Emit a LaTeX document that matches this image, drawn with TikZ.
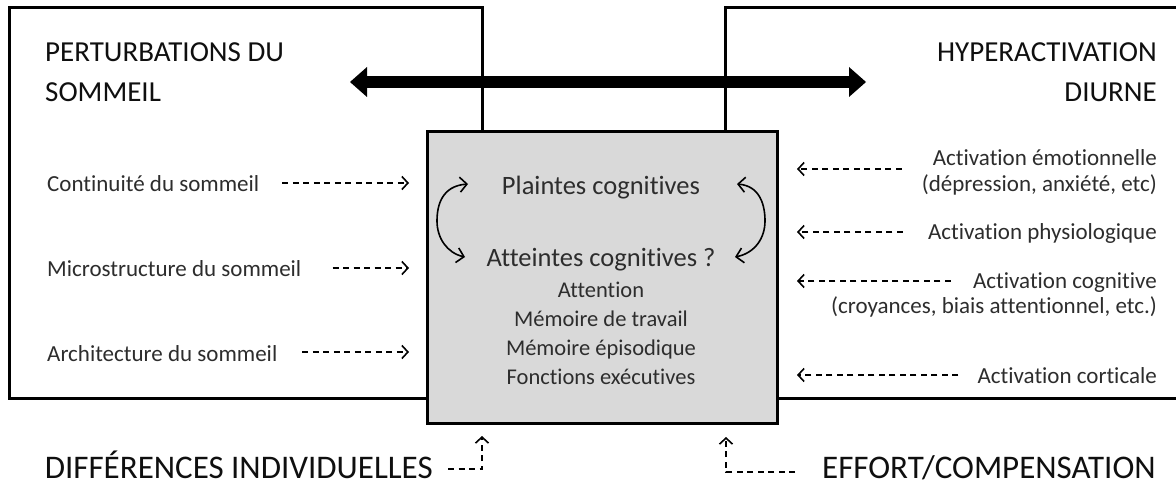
\documentclass[tikz,border=0pt]{standalone}
\usepackage{fontspec}
\setmainfont{Carlito}[Ligatures=NoCommon]
\usetikzlibrary{arrows.meta}
\definecolor{grayfill}{RGB}{217,217,217}
\definecolor{txtgray}{RGB}{45,45,45}
\definecolor{ttlblack}{RGB}{15,15,15}
\begin{document}
\begin{tikzpicture}[x=1pt,y=-1pt,
  boxline/.style={line width=3pt, line join=miter},
  lbl/.style={inner sep=0pt, text=txtgray, font=\fontsize{23}{28}\selectfont},
  ttl/.style={inner sep=0pt, text=ttlblack, font=\fontsize{29}{35}\selectfont},
  inbox/.style={inner sep=0pt, text=txtgray, font=\fontsize{26.5}{32}\selectfont},
  sub/.style={inner sep=0pt, text=txtgray, font=\fontsize{22.5}{27}\selectfont},
  bot/.style={inner sep=0pt, text=ttlblack, font=\fontsize{33}{40}\selectfont},
  darr/.style={line width=1.6pt, dash pattern=on 6pt off 4.5pt, -{Straight Barb[length=6pt,width=13pt]}},
  carr/.style={line width=1.6pt, {Straight Barb[length=7pt,width=15pt]}-{Straight Barb[length=7pt,width=15pt]}},
  bigarr/.style={line width=12pt, {Triangle[length=17pt,width=30pt,line width=0pt]}-{Triangle[length=17pt,width=30pt,line width=0pt]}},
]
\useasboundingbox (0,0) rectangle (1176,484);
\fill[white] (0,0) rectangle (1176,484);

% outer boxes
\draw[boxline] (9,8) rectangle (482,398);
\draw[boxline] (1190,8) -- (725,8) -- (725,398) -- (1190,398);

% big double arrow
\coordinate (bigL) at (350,82);
\coordinate (bigR) at (866,82);
\draw[bigarr] (bigL) -- (bigR);

% titles
\node[ttl, anchor=base west] (pert1) at (45,62) {PERTURBATIONS DU};
\node[ttl, anchor=base west] (pert2) at (45,102) {SOMMEIL};
\node[ttl, anchor=base east] (hyp1) at (1157,62) {HYPERACTIVATION};
\node[ttl, anchor=base east] (hyp2) at (1157,102) {DIURNE};

% central grey box
\node[draw, boxline, fill=grayfill, minimum width=350pt, minimum height=291pt, inner sep=0pt, outer sep=0pt] (cog) at (602,277.5) {};

\node[inbox, anchor=base] (plaintes) at (601,195) {Plaintes cognitives};
\node[inbox, anchor=base] (atteintes) at (601,266) {Atteintes cognitives ?};
\node[sub, anchor=base] (att) at (601,297) {Attention};
\node[sub, anchor=base] (mtrav) at (601,326) {Mémoire de travail};
\node[sub, anchor=base] (mepi) at (601,355) {Mémoire épisodique};
\node[sub, anchor=base] (fexe) at (601,384) {Fonctions exécutives};

% curved arrows
\coordinate (la) at (468,184);
\coordinate (lb) at (465,257);
\draw[carr] (la) .. controls (442,186) and (437,205) .. (437,221) .. controls (437,238) and (447,253) .. (lb);
\coordinate (ra) at (737,184);
\coordinate (rb) at (735,257);
\draw[carr] (ra) .. controls (760,186) and (765,205) .. (765,221) .. controls (765,238) and (755,253) .. (rb);

% left labels
\node[lbl, anchor=base west] (cont) at (47,191) {Continuité du sommeil};
\node[lbl, anchor=base west] (micro) at (47,276) {Microstructure du sommeil};
\node[lbl, anchor=base west] (archi) at (47,361) {Architecture du sommeil};
\coordinate (tipL1) at (409,183);
\coordinate (tipL2) at (409,268);
\coordinate (tipL3) at (409,352);
\draw[darr, shorten <=23pt] (cont.east |- tipL1) -- (tipL1);
\draw[darr, shorten <=31pt] (micro.east |- tipL2) -- (tipL2);
\draw[darr, shorten <=25pt] (archi.east |- tipL3) -- (tipL3);

% right labels
\node[lbl, anchor=base east] (emo1) at (1157,166) {Activation émotionnelle};
\node[lbl, anchor=base east] (emo2) at (1157,191) {(dépression, anxiété, etc)};
\node[lbl, anchor=base east] (phys) at (1157,240) {Activation physiologique};
\node[lbl, anchor=base east] (cog1) at (1157,288) {Activation cognitive};
\node[lbl, anchor=base east] (cog2) at (1157,313) {(croyances, biais attentionnel, etc.)};
\node[lbl, anchor=base east] (cort) at (1157,383) {Activation corticale};
\coordinate (tipR1) at (797,169);
\coordinate (tipR2) at (797,232);
\coordinate (tipR3) at (797,281);
\coordinate (tipR4) at (797,375);
\draw[darr, shorten <=31pt] (emo1.west |- tipR1) -- (tipR1);
\draw[darr, shorten <=25pt] (phys.west |- tipR2) -- (tipR2);
\draw[darr, shorten <=22pt] (cog1.west |- tipR3) -- (tipR3);
\draw[darr, shorten <=19pt] (cort.west |- tipR4) -- (tipR4);

% bottom labels
\node[bot, anchor=base east] (diff) at (433,478) {DIFFÉRENCES INDIVIDUELLES};
\node[bot, anchor=base west] (eff) at (822,478) {EFFORT/COMPENSATION};
\coordinate (dh) at (482,469);
\coordinate (dt) at (482,436);
\draw[darr, shorten <=15pt] (diff.east |- dh) -- (dh) -- (dt);
\coordinate (eh) at (726,472);
\coordinate (et) at (726,437);
\draw[darr, shorten <=27pt] (eff.west |- eh) -- (eh) -- (et);
\end{tikzpicture}
\end{document}
